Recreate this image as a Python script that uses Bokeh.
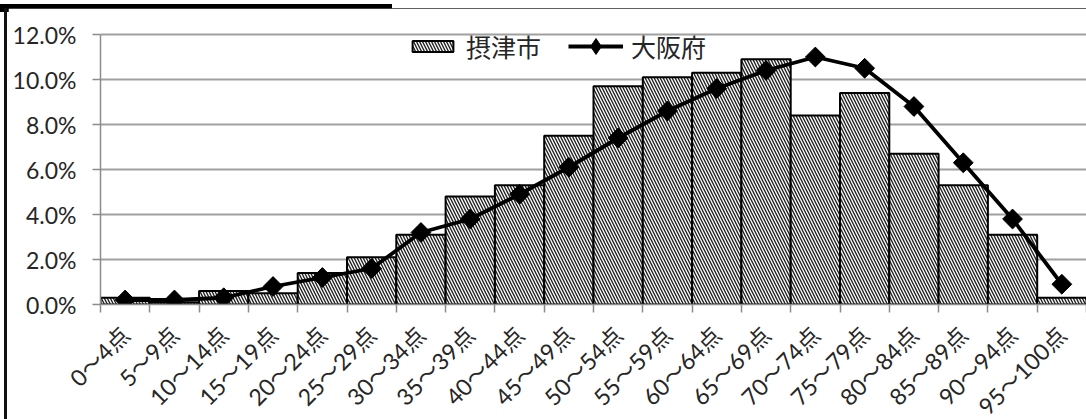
import math

from bokeh.embed import file_html
from bokeh.layouts import column, row
from bokeh.models import (Div, FixedTicker, Legend, LegendItem,
                          PrintfTickFormatter, Range1d)
from bokeh.plotting import figure
from bokeh.resources import INLINE

# score bands
categories = ["0～4点", "5～9点", "10～14点", "15～19点", "20～24点",
              "25～29点", "30～34点", "35～39点", "40～44点", "45～49点",
              "50～54点", "55～59点", "60～64点", "65～69点", "70～74点",
              "75～79点", "80～84点", "85～89点", "90～94点", "95～100点"]

# share of students per band (%)
settsu = [0.3, 0.1, 0.6, 0.5, 1.4, 2.1, 3.1, 4.8, 5.3, 7.5,
          9.7, 10.1, 10.3, 10.9, 8.4, 9.4, 6.7, 5.3, 3.1, 0.3]
osaka = [0.2, 0.2, 0.3, 0.8, 1.2, 1.6, 3.2, 3.8, 4.9, 6.1,
         7.4, 8.6, 9.6, 10.4, 11.0, 10.5, 8.8, 6.3, 3.8, 0.9]

y_ticks = [0, 2, 4, 6, 8, 10, 12]

series_names = ["摂津市", "大阪府"]

n = len(categories)
centers = [i + 0.5 for i in range(n)]
bounds = list(range(n + 1))

LABEL_FONT = "Lato, 'Noto Sans CJK JP'"
GRID = "#a0a0a0"
AXIS = "#8c8c8c"
TEXT = "#262626"

# the frame is 284 px tall; the 0-12 % scale uses its lower 270 px,
# leaving headroom above the top gridline for the legend
FRAME_H, SCALE_H = 284, 270
y_top = y_ticks[-1] * FRAME_H / SCALE_H

p = figure(width=1078, height=432, output_backend="svg", toolbar_location=None,
           x_range=Range1d(0, n), y_range=Range1d(0, y_top),
           min_border_left=92, min_border_right=0, min_border_top=12,
           min_border_bottom=136, outline_line_color=None,
           background_fill_color="white", border_fill_color="white")

bars = p.vbar(x=centers, top=settsu, width=1.0, fill_color="white",
              hatch_pattern="left_diagonal_line", hatch_color="#222222",
              hatch_scale=6, hatch_weight=1.4,
              line_color="black", line_width=2)
ln = p.line(x=centers, y=osaka, line_color="black", line_width=3.8)
# diamond glyph kept under the rotated squares; it supplies the legend symbol
diam = p.scatter(x=centers, y=osaka, marker="diamond", size=18,
                 fill_color="black", line_color="black")
pts = p.scatter(x=centers, y=osaka, marker="square", angle=math.pi / 4,
                size=14, fill_color="black", line_color="black")

# y axis
yax = p.yaxis[0]
yax.ticker = FixedTicker(ticks=y_ticks)
yax.bounds = (y_ticks[0], y_ticks[-1])
yax.formatter = PrintfTickFormatter(format="%.1f%%")
yax.axis_line_color = AXIS
yax.axis_line_width = 1.5
yax.major_tick_line_color = AXIS
yax.major_tick_line_width = 1.5
yax.major_tick_out = 8
yax.major_tick_in = 0
yax.minor_tick_line_color = None
yax.major_label_standoff = 16
yax.major_label_text_font = LABEL_FONT
yax.major_label_text_font_size = "23px"
yax.major_label_text_color = TEXT

# x axis: labels at band centres, tick marks on band boundaries
xax = p.xaxis[0]
xax.ticker = FixedTicker(ticks=centers, minor_ticks=bounds)
xax.major_label_overrides = {c: lab for c, lab in zip(centers, categories)}
xax.major_label_orientation = math.pi / 4
xax.axis_line_color = AXIS
xax.axis_line_width = 1.5
xax.major_tick_line_color = None
xax.major_tick_out = 0
xax.major_tick_in = 0
xax.minor_tick_line_color = AXIS
xax.minor_tick_line_width = 1.5
xax.minor_tick_out = 8
xax.minor_tick_in = 0
xax.major_label_standoff = 18
xax.major_label_text_font = LABEL_FONT
xax.major_label_text_font_size = "23px"
xax.major_label_text_color = TEXT

p.xgrid.grid_line_color = None
p.ygrid.ticker = FixedTicker(ticks=y_ticks)
p.ygrid.grid_line_color = GRID
p.ygrid.grid_line_width = 2

legend_style = dict(orientation="horizontal", padding=0, margin=0,
                    label_standoff=8, border_line_color=None,
                    background_fill_alpha=0.0,
                    label_text_font="Noto Sans CJK JP",
                    label_text_font_size="25px", label_text_color=TEXT)
legend_city = Legend(items=[LegendItem(label=series_names[0], renderers=[bars])],
                     location=(307, 240), glyph_width=51, glyph_height=14,
                     **legend_style)
legend_pref = Legend(items=[LegendItem(label=series_names[1], renderers=[ln, diam])],
                     location=(468, 238), glyph_width=55, glyph_height=40,
                     **legend_style)
p.add_layout(legend_city, "center")
p.add_layout(legend_pref, "center")

top_rule = Div(text=(
    '<div style="position:relative;width:1086px;height:8px;">'
    '<div style="position:absolute;left:0;top:0;width:392px;height:8px;background:#000;"></div>'
    '<div style="position:absolute;left:392px;top:4px;width:694px;height:2px;background:#2a2a2a;"></div>'
    '</div>'), width=1086, height=8, margin=0)
left_rule = Div(text=(
    '<div style="position:relative;width:8px;height:432px;">'
    '<div style="position:absolute;left:4px;top:0;width:3px;height:432px;background:#111;"></div>'
    '</div>'), width=8, height=432, margin=0)

layout = column(top_rule, row(left_rule, p, spacing=0), spacing=0)

open("out.html", "w").write(file_html(layout, INLINE))
